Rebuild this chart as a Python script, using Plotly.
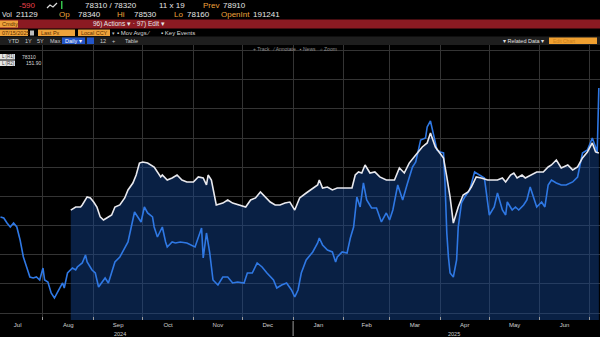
import plotly.graph_objects as go

W, H = 600, 337
FONT = "Arial, Liberation Sans, sans-serif"

# ---- series 1: last price (white, filled) ----
white_dates = [
    "2024-08-18", "2024-08-21", "2024-08-24", "2024-08-25", "2024-08-28", "2024-08-30",
    "2024-09-01", "2024-09-03", "2024-09-05", "2024-09-07", "2024-09-09", "2024-09-12",
    "2024-09-14", "2024-09-17", "2024-09-20", "2024-09-22", "2024-09-25", "2024-09-27",
    "2024-09-29", "2024-10-01", "2024-10-04", "2024-10-08", "2024-10-12", "2024-10-13",
    "2024-10-16", "2024-10-19", "2024-10-22", "2024-10-25", "2024-10-28", "2024-11-01",
    "2024-11-04", "2024-11-07", "2024-11-09", "2024-11-10", "2024-11-12", "2024-11-15",
    "2024-11-19", "2024-11-22", "2024-11-25", "2024-11-29", "2024-12-03", "2024-12-06",
    "2024-12-09", "2024-12-12", "2024-12-15", "2024-12-18", "2024-12-21", "2024-12-24",
    "2024-12-27", "2024-12-30", "2025-01-02", "2025-01-05", "2025-01-09", "2025-01-13",
    "2025-01-16", "2025-01-17", "2025-01-19", "2025-01-22", "2025-01-25", "2025-01-28",
    "2025-01-31", "2025-02-06", "2025-02-08", "2025-02-10", "2025-02-12", "2025-02-14",
    "2025-02-17", "2025-02-20", "2025-02-23", "2025-02-27", "2025-03-04", "2025-03-07",
    "2025-03-10", "2025-03-13", "2025-03-18", "2025-03-21", "2025-03-24", "2025-03-26",
    "2025-03-29", "2025-04-01", "2025-04-03", "2025-04-05", "2025-04-07", "2025-04-09",
    "2025-04-12", "2025-04-15", "2025-04-18", "2025-04-20", "2025-04-23", "2025-04-26",
    "2025-04-30", "2025-05-03", "2025-05-06", "2025-05-09", "2025-05-11", "2025-05-14",
    "2025-05-16", "2025-05-18", "2025-05-21", "2025-05-23", "2025-05-26", "2025-05-30",
    "2025-06-03", "2025-06-06", "2025-06-08", "2025-06-11", "2025-06-14", "2025-06-18",
    "2025-06-21", "2025-06-24", "2025-06-27", "2025-06-30", "2025-07-03", "2025-07-05",
    "2025-07-07",
]
white_vals = [
    74400, 74610, 74610, 74750, 75300, 75230,
    74950, 74610, 73930, 73720, 73860, 74060,
    74610, 74750, 75230, 75780, 76250, 76800,
    77620, 77690, 77620, 77350, 76670, 76800,
    76460, 76600, 76800, 76460, 76320, 76320,
    76670, 76600, 76120, 76800, 76460, 74750,
    74880, 75090, 74880, 74750, 74610, 75090,
    75230, 75640, 75300, 74950, 74750, 74750,
    74880, 74950, 74400, 75230, 75570, 75910,
    76120, 76460, 75910, 75980, 75780, 75910,
    75910, 75910, 76800, 77010, 76940, 77490,
    76940, 77010, 76670, 76460, 76460, 77280,
    76940, 77620, 78310, 78720, 79000, 79680,
    78720, 78310, 77970, 76670, 75300, 73510,
    74610, 75430, 75640, 75980, 76670, 76600,
    76460, 76460, 76460, 76600, 76320, 76800,
    76940, 76600, 76800, 76600, 76800, 77010,
    77010, 77350, 77490, 77830, 77280, 77490,
    77150, 77350, 77970, 78380, 79000, 78380,
    78310,
]

# ---- series 2: comparison (blue, right scale) ----
blue_dates = [
    "2024-07-06", "2024-07-08", "2024-07-10", "2024-07-12", "2024-07-14", "2024-07-16",
    "2024-07-18", "2024-07-20", "2024-07-22", "2024-07-24", "2024-07-26", "2024-07-28",
    "2024-07-30", "2024-08-01", "2024-08-02", "2024-08-04", "2024-08-06", "2024-08-08",
    "2024-08-10", "2024-08-13", "2024-08-14", "2024-08-16", "2024-08-19", "2024-08-21",
    "2024-08-22", "2024-08-25", "2024-08-27", "2024-08-28", "2024-08-31", "2024-09-02",
    "2024-09-04", "2024-09-06", "2024-09-08", "2024-09-10", "2024-09-12", "2024-09-14",
    "2024-09-17", "2024-09-20", "2024-09-22", "2024-09-24", "2024-09-26", "2024-09-28",
    "2024-09-30", "2024-10-02", "2024-10-04", "2024-10-07", "2024-10-08", "2024-10-10",
    "2024-10-13", "2024-10-15", "2024-10-16", "2024-10-19", "2024-10-21", "2024-10-24",
    "2024-10-28", "2024-11-02", "2024-11-05", "2024-11-06", "2024-11-07", "2024-11-09",
    "2024-11-11", "2024-11-13", "2024-11-16", "2024-11-19", "2024-11-22", "2024-11-25",
    "2024-11-28", "2024-12-02", "2024-12-04", "2024-12-07", "2024-12-10", "2024-12-13",
    "2024-12-16", "2024-12-20", "2024-12-22", "2024-12-25", "2024-12-28", "2024-12-31",
    "2025-01-02", "2025-01-04", "2025-01-06", "2025-01-09", "2025-01-13", "2025-01-16",
    "2025-01-17", "2025-01-19", "2025-01-22", "2025-01-25", "2025-01-27", "2025-01-28",
    "2025-01-31", "2025-02-03", "2025-02-05", "2025-02-07", "2025-02-09", "2025-02-11",
    "2025-02-13", "2025-02-15", "2025-02-18", "2025-02-21", "2025-02-24", "2025-02-27",
    "2025-03-01", "2025-03-03", "2025-03-06", "2025-03-09", "2025-03-12", "2025-03-15",
    "2025-03-17", "2025-03-20", "2025-03-23", "2025-03-24", "2025-03-26", "2025-03-28",
    "2025-03-30", "2025-04-01", "2025-04-03", "2025-04-04", "2025-04-05", "2025-04-06",
    "2025-04-07", "2025-04-09", "2025-04-11", "2025-04-12", "2025-04-14", "2025-04-16",
    "2025-04-19", "2025-04-22", "2025-04-25", "2025-04-28", "2025-05-01", "2025-05-04",
    "2025-05-06", "2025-05-09", "2025-05-11", "2025-05-12", "2025-05-15", "2025-05-17",
    "2025-05-19", "2025-05-22", "2025-05-24", "2025-05-26", "2025-05-28", "2025-05-30",
    "2025-06-02", "2025-06-04", "2025-06-06", "2025-06-08", "2025-06-11", "2025-06-14",
    "2025-06-17", "2025-06-21", "2025-06-24", "2025-06-25", "2025-06-27", "2025-06-30",
    "2025-07-03", "2025-07-05", "2025-07-06", "2025-07-07",
]
blue_vals = [
    134.23, 134.09, 133.41, 132.86, 133.41, 132.86,
    131.08, 128.75, 127.38, 126.01, 125.87, 126.01,
    125.60, 127.24, 125.60, 125.33, 123.82, 123.13,
    123.96, 125.19, 124.50, 126.56, 127.24, 126.97,
    127.38, 127.93, 129.02, 128.07, 126.97, 126.56,
    124.64, 125.33, 125.87, 125.19, 126.56, 128.07,
    128.75, 130.12, 130.81, 132.86, 134.92, 134.23,
    133.55, 135.60, 134.78, 134.23, 132.86, 131.49,
    132.86, 130.81, 130.12, 130.81, 130.67, 130.81,
    130.67, 130.12, 132.04, 132.72, 128.61, 132.04,
    129.30, 125.60, 124.92, 126.01, 126.01, 125.19,
    125.33, 125.19, 126.56, 126.56, 127.93, 127.38,
    126.56, 125.60, 124.50, 124.92, 125.19, 124.23,
    123.27, 124.23, 126.56, 128.34, 129.44, 130.67,
    131.35, 130.40, 129.71, 129.44, 128.07, 128.75,
    129.44, 129.30, 131.35, 132.86, 136.97, 135.60,
    138.89, 136.56, 135.46, 135.46, 133.55, 134.78,
    133.82, 135.19, 138.62, 136.56, 138.89, 141.08,
    141.77, 144.78, 145.05, 146.56, 147.38, 145.19,
    143.41, 143.14, 143.00, 138.34, 132.04, 128.75,
    126.56, 126.01, 128.34, 132.86, 136.15, 136.97,
    137.93, 140.40, 139.98, 139.57, 134.50, 135.60,
    137.52, 135.19, 134.50, 136.29, 135.19, 135.60,
    135.19, 135.87, 136.56, 138.34, 136.97, 135.60,
    136.29, 135.60, 138.62, 139.30, 138.89, 138.62,
    138.62, 139.03, 139.71, 140.67, 143.00, 143.41,
    145.05, 143.82, 143.00, 151.90,
]

# visible window and scales
x_range = ["2024-07-05 17:00", "2025-07-07 17:00"]
white_range = [66870, 85707]
white_grid0, white_grid_step = 79337, 2000
blue_range = [120.12, 157.79]
year_labels = [("2024", 120), ("2025", 454)]

# header quote fields
change = "-590"
bid_ask = "78310 / 78320"
size_txt = "11 x 19"
prev_close = "78910"
volume = "21129"
quote_fields = [("Op", "78340", 58, 77), ("Hi", "78530", 116, 133),
                ("Lo", "78160", 173, 186), ("OpenInt", "191241", 220, 252)]

ORANGE = "#eea23a"
BOX_TXT = "#5c2e00"
WHITE_TXT = "#e6e6e6"


def px(x):
    return x / W


def py(y):
    return 1 - y / H


shapes, annots = [], []


def rect(x0, y0, x1, y1, color):
    shapes.append(dict(type="rect", xref="paper", yref="paper",
                       x0=px(x0), x1=px(x1), y0=py(y1), y1=py(y0),
                       fillcolor=color, line=dict(width=0), layer="above"))


def text(x, y, s, color=WHITE_TXT, size=8, anchor="left"):
    annots.append(dict(x=px(x), y=py(y), xref="paper", yref="paper", text=s,
                       showarrow=False, xanchor=anchor, yanchor="middle",
                       borderpad=0, font=dict(color=color, size=size, family=FONT)))


# row 1: quote line
text(37, 5.5, change, "#e8414a", anchor="right")
shapes.append(dict(type="path", xref="paper", yref="paper", layer="above",
                   path=f"M{px(47)},{py(8)} L{px(50)},{py(5)} L{px(53)},{py(7)} L{px(57)},{py(3)}",
                   line=dict(color="#dddddd", width=1.2)))
rect(61, 1, 62.5, 9, "#35c24a")
text(111, 5.5, bid_ask, anchor="center")
text(172, 5.5, size_txt, anchor="center")
text(202, 5.5, "Prev", ORANGE)
text(222, 5.5, prev_close)

# row 2: session stats
text(0.5, 15, "Vol", size=7)
text(15, 15, volume)
for lab, val, xl, xv in quote_fields:
    text(xl, 15, lab, ORANGE)
    text(xv, 15, val)

# row 3: red menu bar
rect(0, 19.5, 600, 28.5, "#8b1a22")
rect(0, 20.5, 18, 27.5, ORANGE)
text(0.8, 24, "Cmdty", BOX_TXT, size=5.5)
text(129, 24, "96) Actions ▾ · 97) Edit ▾", WHITE_TXT, size=6.5, anchor="center")

# row 4: inputs
rect(0, 29.5, 28, 36, ORANGE)
text(1, 33, "07/15/2025", BOX_TXT, size=5.5)
rect(30, 30.5, 34, 35.5, "#bdbdbd")
rect(38, 29.5, 75, 36, ORANGE)
text(40, 33, "Last Px", BOX_TXT, size=5.5)
rect(78, 29.5, 110, 36, ORANGE)
text(80, 33, "Local CCY", BOX_TXT, size=5.5)
text(111, 33, "▾", "#bbbbbb", size=5)
text(116, 33, "▪ Mov Avgs ⁄", "#d8d8d8", size=6)
text(160, 33, "▪ Key Events", "#d8d8d8", size=6)

# row 5: periods toolbar
rect(0, 36.5, 600, 45, "#1e1e1e")
for lab, xx in [("YTD", 7), ("1Y", 24), ("5Y", 36), ("Max", 49)]:
    text(xx, 40.8, lab, "#cfcfcf", size=5.5)
rect(62, 37.5, 85, 44, "#2456c9")
text(64, 40.8, "Daily ▾", "#ffffff", size=5.5)
rect(87, 37.5, 94, 44, "#2456c9")
text(99, 40.8, "12", "#cfcfcf", size=5.5)
text(111, 40.8, "+", "#cfcfcf", size=5.5)
text(124, 40.8, "Table", "#cfcfcf", size=5.5)
text(502, 40.8, "▾ Related Data ▾", "#e0e0e0", size=5.5)
rect(549, 37.5, 597, 44, "#f0a030")
text(552, 40.8, "Edit Chart", "#c97f1c", size=5)

# chart tools and legend inside the plot
text(252, 48.5, "+ Track   ⁄ Annotate   ▪ News   ⌕ Zoom", "#8c8c8c", size=5)
rect(0, 54, 15, 59.5, "#e4e4e4")
text(1, 56.8, "L (R1)", "#333333", size=4.5)
text(21, 56.8, f"{white_vals[-1]:.0f}", "#d8d8d8", size=5)
rect(0, 60.5, 15, 66, "#e4e4e4")
text(1, 63.3, "L (R2)", "#333333", size=4.5)
text(25, 63.3, f"{blue_vals[-1]:.2f}", "#d8d8d8", size=5)

# year labels and the year divider below the date axis
for lab, xx in year_labels:
    text(xx, 333.5, lab, "#cfcfcf", size=5.5, anchor="center")
shapes.append(dict(type="line", xref="x", yref="paper", x0="2025-01-01", x1="2025-01-01",
                   y0=py(336), y1=py(321), line=dict(color="#9a9a9a", width=1)))

fig = go.Figure()
fig.add_trace(go.Scatter(x=white_dates, y=white_vals, mode="lines", fill="tozeroy",
                         fillcolor="rgba(20,72,150,0.45)", line=dict(width=0),
                         yaxis="y", hoverinfo="skip", showlegend=False))
fig.add_trace(go.Scatter(x=blue_dates, y=blue_vals, mode="lines",
                         line=dict(color="#2f78e4", width=1.6),
                         yaxis="y2", hoverinfo="skip", showlegend=False))
fig.add_trace(go.Scatter(x=white_dates, y=white_vals, mode="lines",
                         line=dict(color="#e9e9ee", width=1.6),
                         yaxis="y3", hoverinfo="skip", showlegend=False))

ydom = [py(320), py(45)]
hidden = dict(showticklabels=False, showgrid=False, zeroline=False, showline=False,
              ticks="", fixedrange=True)

fig.update_layout(
    width=W, height=H,
    margin=dict(l=0, r=0, t=0, b=0, autoexpand=False),
    paper_bgcolor="#000000", plot_bgcolor="#000000",
    showlegend=False,
    xaxis=dict(type="date", range=x_range, domain=[0, 1],
               dtick="M1", tickformat="%b", ticklabelmode="period",
               showgrid=True, gridcolor="#343434", gridwidth=1,
               ticks="inside", ticklen=3, tickcolor="#9a9a9a",
               tickfont=dict(color="#d0d0d0", size=6, family=FONT),
               zeroline=False, showline=False, fixedrange=True, automargin=False),
    yaxis=dict(domain=ydom, range=white_range, tickmode="linear",
               tick0=white_grid0, dtick=white_grid_step,
               showgrid=True, gridcolor="#343434", gridwidth=1,
               showticklabels=False, zeroline=False, showline=False, ticks="",
               fixedrange=True, automargin=False),
    yaxis2=dict(overlaying="y", side="right", range=blue_range, **hidden),
    yaxis3=dict(overlaying="y", side="right", range=white_range, **hidden),
    shapes=shapes,
    annotations=annots,
)

fig.write_html("out.html")
